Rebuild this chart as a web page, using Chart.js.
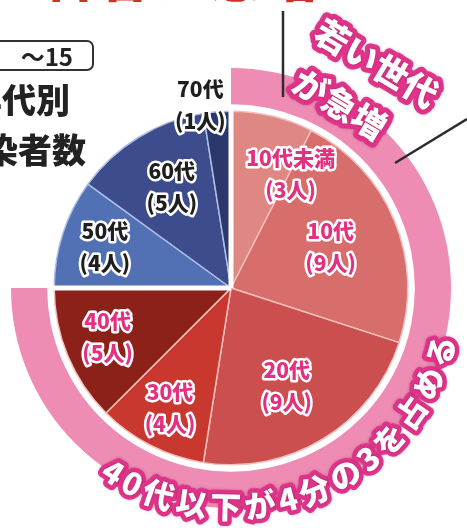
<!DOCTYPE html>
<html lang="ja">
<head>
<meta charset="utf-8">
<script src="https://cdn.jsdelivr.net/npm/chart.js@4.4.1/dist/chart.umd.min.js"></script>
<style>
html, body { margin: 0; padding: 0; background: #fff; }
#wrap {
    position: relative; width: 467px; height: 528px; overflow: hidden;
    font-family: "Noto Sans CJK JP", "Noto Sans", sans-serif;
}
#chart { position: absolute; left: 0; top: 0; }
.head-red {
    position: absolute; left: 40px; top: -53px; font-size: 54px; line-height: 54px; font-weight: 900;
    color: #cc3328; white-space: nowrap; letter-spacing: 2px;
}
.date-box {
    position: absolute; left: -14px; top: 40px; width: 108px; height: 31px;
    border: 2px solid #333; border-radius: 7px; box-sizing: border-box;
    text-align: right; padding-right: 19px; font-size: 24px; font-weight: bold;
    line-height: 27px; color: #222; background: #fff;
}
.title {
    position: absolute; font-size: 34px; font-weight: 900; color: #222;
    line-height: 34px; white-space: nowrap; text-align: right;
}
#lines { position: absolute; left: 0; top: 0; }
</style>
</head>
<body>
<div id="wrap">
    <div class="head-red">若者が急増と</div>
    <canvas id="chart" width="467" height="528"></canvas>
    <div class="date-box">～15</div>
    <div class="title" style="right:397px; top:82px;">年代別</div>
    <div class="title" style="right:381px; top:132px;">感染者数</div>
    <svg id="lines" width="467" height="528">
        <line x1="283" y1="11" x2="283" y2="97" stroke="#2b2b2b" stroke-width="2.5"/>
        <line x1="395" y1="163" x2="467" y2="119" stroke="#2b2b2b" stroke-width="2.5"/>
    </svg>
</div>
<script>
// --- データ ---
const categories = ['10代未満', '10代', '20代', '30代', '40代', '50代', '60代', '70代'];
const counts = [3, 9, 9, 4, 5, 4, 5, 1];
const sliceColors = ['#df8883', '#d86e6b', '#cb4f4f', '#c8382f', '#8b2119', '#5271b5', '#3d4c8c', '#2c386b'];
const sliceBorders = ['#f2c0bd', '#f2c0bd', '#f2c0bd', '#f2c0bd', '#f2c0bd', '#aebde6', '#aebde6', '#aebde6'];

// 外側リング: 40代以下 / 50代以上
const ringLabels = ['40代以下', '50代以上'];
const ringValues = [30, 10];

const ringText = '40代以下が4分の3を占める';
const calloutLines = ['若い世代', 'が急増'];

// ラベル位置 [半径比, 角度ずらし(度)]
const labelPlace = [[0.73, 14], [0.61, 0], [0.64, 2], [0.76, 0], [0.75, 1], [0.75, 0], [0.66, 1], [1.05, -5]];
const labelColor = ['#e3307f', '#e3307f', '#e3307f', '#e3307f', '#e3307f', '#1e1e1e', '#1e1e1e', '#1e1e1e'];

const FONT = '"Noto Sans CJK JP", "Noto Sans", sans-serif';

function outlinedText(ctx, txt, x, y, fill, stroke, lw) {
    ctx.lineJoin = 'round';
    ctx.strokeStyle = stroke;
    ctx.lineWidth = lw;
    ctx.strokeText(txt, x, y);
    ctx.fillStyle = fill;
    ctx.fillText(txt, x, y);
}

const decoPlugin = {
    id: 'deco',
    afterDatasetsDraw(chart) {
        const ctx = chart.ctx;
        const arcs = chart.getDatasetMeta(2).data;
        const ring = chart.getDatasetMeta(0).data[0];
        const cx = arcs[0].x, cy = arcs[0].y, r = arcs[0].outerRadius;

        ctx.save();
        // 白い区切り線 (上と左)
        ctx.strokeStyle = '#fff';
        ctx.lineWidth = 5;
        [arcs[0].startAngle, arcs[4].endAngle].forEach(a => {
            ctx.beginPath();
            ctx.moveTo(cx, cy);
            ctx.lineTo(cx + (r + 5) * Math.cos(a), cy + (r + 5) * Math.sin(a));
            ctx.stroke();
        });

        // スライスのラベル
        ctx.textAlign = 'center';
        ctx.textBaseline = 'middle';
        ctx.font = '900 21px ' + FONT;
        arcs.forEach((arc, i) => {
            const mid = (arc.startAngle + arc.endAngle) / 2 + labelPlace[i][1] * Math.PI / 180;
            const d = r * labelPlace[i][0];
            const x = cx + d * Math.cos(mid);
            const y = cy + d * Math.sin(mid);
            outlinedText(ctx, categories[i], x, y - 16, labelColor[i], '#fff', 5);
            outlinedText(ctx, '(' + counts[i] + '人)', x, y + 16, labelColor[i], '#fff', 5);
        });

        // リング下側の文字 (左端 122.6°, 右端 16.8°)
        const R = ring.outerRadius - 1;
        ctx.font = '900 31px ' + FONT;
        const chars = Array.from(ringText);
        const w = chars.map(c => ctx.measureText(c).width);
        const startPhi = 122.6 * Math.PI / 180;
        const endPhi = 16.8 * Math.PI / 180;
        const span = (startPhi - endPhi) * R;
        const inner = w.reduce((s, v) => s + v, 0) - w[0] / 2 - w[w.length - 1] / 2;
        const gap = (span - inner) / (chars.length - 1);
        let s = 0;
        chars.forEach((c, i) => {
            if (i > 0) s += w[i - 1] / 2 + gap + w[i] / 2;
            const phi = startPhi - s / R;
            const x = cx + R * Math.cos(phi);
            const y = cy + R * Math.sin(phi);
            ctx.save();
            ctx.translate(x, y);
            ctx.rotate(phi - Math.PI / 2);
            ctx.shadowColor = 'rgba(0,0,0,0.25)';
            ctx.shadowBlur = 3;
            outlinedText(ctx, c, 0, 0, '#fff', '#e2338b', 9);
            ctx.restore();
        });

        // 若い世代が急増
        ctx.font = '900 34px ' + FONT;
        ctx.save();
        ctx.translate(cx + 134, cy - 206);
        ctx.rotate(31 * Math.PI / 180);
        ctx.shadowColor = 'rgba(0,0,0,0.25)';
        ctx.shadowBlur = 3;
        outlinedText(ctx, calloutLines[0], 0, -22, '#fff', '#e2338b', 10);
        outlinedText(ctx, calloutLines[1], -10, 32, '#fff', '#e2338b', 10);
        ctx.restore();

        ctx.restore();
    }
};

new Chart(document.getElementById('chart'), {
    type: 'pie',
    data: {
        labels: categories,
        datasets: [
            {
                label: '外側',
                data: ringValues,
                backgroundColor: ['#ef8cb4', 'rgba(0,0,0,0)'],
                borderWidth: 0,
                weight: 36
            },
            {
                label: '余白',
                data: [1],
                backgroundColor: ['rgba(0,0,0,0)'],
                borderWidth: 0,
                weight: 7
            },
            {
                label: '感染者数',
                data: counts,
                backgroundColor: sliceColors,
                borderColor: sliceBorders,
                borderWidth: 1.5,
                hoverBorderWidth: 1.5,
                weight: 176
            }
        ]
    },
    options: {
        responsive: false,
        animation: false,
        layout: { padding: { left: 11, top: 68, right: 16, bottom: 20 } },
        plugins: {
            legend: { display: false },
            tooltip: { enabled: false }
        }
    },
    plugins: [decoPlugin]
});
</script>
</body>
</html>
